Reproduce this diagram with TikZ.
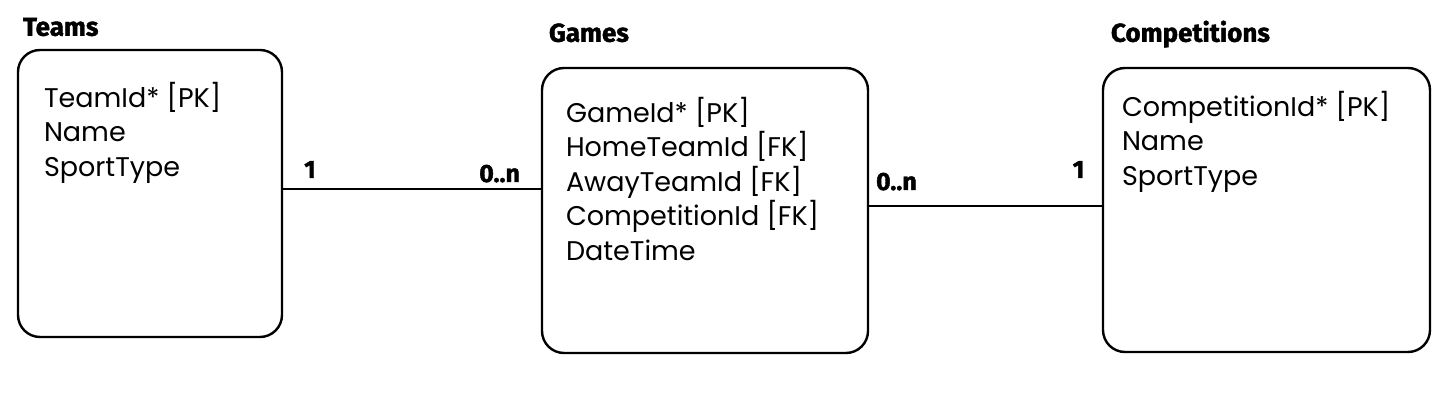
\documentclass[tikz,border=0pt]{standalone}
\usepackage{fontspec}
\usepackage{tikz}
\setmainfont{Poppins}
\newfontfamily\headfont{Fira Sans}[BoldFeatures={FakeBold=1.5}]
\usetikzlibrary{positioning,calc}

\tikzset{
  entity/.style={draw, line width=2.4pt, rounded corners=22pt, inner sep=0pt},
  attrs/.style={align=left, inner sep=0pt, font=\fontsize{27}{34.5}\selectfont},
  tabletitle/.style={anchor=base west, inner sep=0pt, font=\headfont\bfseries\fontsize{26}{30}\selectfont},
  link/.style={line width=2.4pt},
  mult/.style={anchor=base, inner sep=0pt, font=\headfont\bfseries\fontsize{25}{30}\selectfont}
}

\begin{document}
\begin{tikzpicture}[x=1pt, y=1pt]
    \useasboundingbox (0,0) rectangle (1438,418);

    % Tables
    \node[entity, minimum width=264pt, minimum height=287pt] (teams) at (150,224.5) {};
    \node[entity, minimum width=326pt, minimum height=285pt] (games) at (705,207.5) {};
    \node[entity, minimum width=327pt, minimum height=284pt] (comps) at (1266.5,208) {};

    % Titles
    \node[tabletitle] (teamstitle) at ([shift={(6pt,13pt)}]teams.north west) {Teams};
    \node[tabletitle] (gamestitle) at ([shift={(8pt,25pt)}]games.north west) {Games};
    \node[tabletitle] (compstitle) at ([shift={(9pt,25pt)}]comps.north west) {Competitions};

    % Columns
    \node[attrs, below right=33pt and 27pt of teams.north west] (teamcols)
        {TeamId* [PK]\\ Name\\ SportType};
    \node[attrs, below right=30pt and 25pt of games.north west] (gamecols)
        {GameId* [PK]\\ HomeTeamId [FK]\\ AwayTeamId [FK]\\ CompetitionId [FK]\\ DateTime};
    \node[attrs, below right=24pt and 20pt of comps.north west] (compcols)
        {CompetitionId* [PK]\\ Name\\ SportType};

    % Relations
    \draw[link] ([yshift=4.5pt]teams.east) -- ([yshift=4.5pt]teams.east -| games.west)
        node[mult, pos=0.104, yshift=11pt] (one1) {1}
        node[mult, pos=0.84, yshift=7pt] (many1) {0..n};
    \draw[link] ([yshift=4.5pt]games.east) -- ([yshift=4.5pt]games.east -| comps.west)
        node[mult, pos=0.117, yshift=16pt] (many2) {0..n}
        node[mult, pos=0.90, yshift=28pt] (one2) {1};
\end{tikzpicture}
\end{document}
